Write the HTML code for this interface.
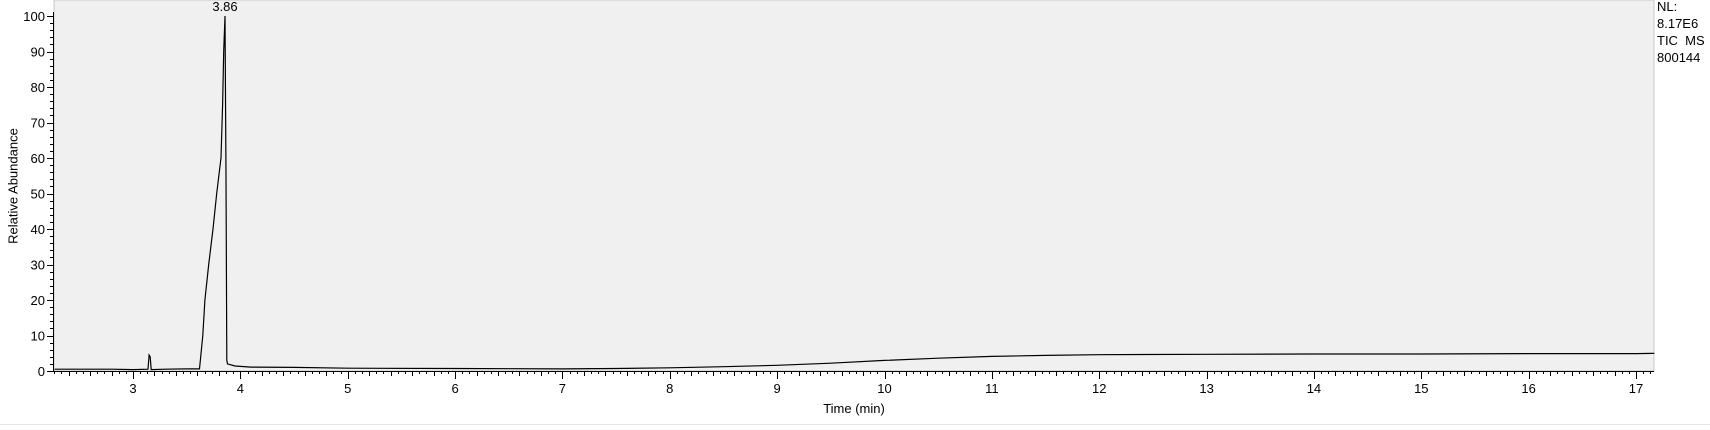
<!DOCTYPE html>
<html><head><meta charset="utf-8">
<style>
html,body{margin:0;padding:0;background:#fff;}
body{width:1710px;height:425px;overflow:hidden;font-family:"Liberation Sans",sans-serif;}
svg text{font-family:"Liberation Sans",sans-serif;}
</style></head>
<body>
<svg id="chart" width="1710" height="425" viewBox="0 0 1710 425" xmlns="http://www.w3.org/2000/svg">
<rect x="54" y="0" width="1600" height="371" fill="#f0f0f0" stroke="#c8c8c8" stroke-width="1"/>
<g id="axes"></g>
<g id="series"></g>
<text x="14" y="186" font-size="13" text-anchor="middle" transform="rotate(-90 14 186)" dominant-baseline="middle">Relative Abundance</text>
<text x="854" y="413" font-size="13" text-anchor="middle">Time (min)</text>
<text x="225" y="11" font-size="13" text-anchor="middle">3.86</text>
<g font-size="13">
<text x="1657" y="11">NL:</text>
<text x="1657" y="28">8.17E6</text>
<text x="1657" y="45">TIC&#160;&#160;MS</text>
<text x="1657" y="62">800144</text>
</g>
<line x1="0" y1="424.5" x2="1710" y2="424.5" stroke="#e6e6e6"/>
</svg>
<script>
const times = [2.27,2.5,2.8,3.0,3.14,3.15,3.16,3.17,3.3,3.5,3.62,3.65,3.67,3.705,3.745,3.78,3.82,3.835,3.845,3.857,3.866,3.874,3.88,3.95,4.1,4.5,5,6,7,7.5,8,8.5,9,9.5,10,10.5,11,11.5,12,13,14,15,16,17,17.17];
const abundance = [0.5,0.5,0.5,0.4,0.5,4.5,4,0.4,0.5,0.6,0.6,10,20,30,40,50,60,75,90,100,55,3,2,1.4,1.1,1,0.8,0.7,0.6,0.7,0.9,1.2,1.6,2.2,3.0,3.6,4.1,4.4,4.6,4.7,4.8,4.8,4.9,4.9,5.0,5.0];
const xTicks = [3,4,5,6,7,8,9,10,11,12,13,14,15,16,17];
const yTicks = [0,10,20,30,40,50,60,70,80,90,100];
const tMin = 2.255, tMax = 17.17;
const X = t => 53 + (t - tMin) * 107.36;
const Y = v => 371 - v * 3.55;
const NS = "http://www.w3.org/2000/svg";
const axes = document.getElementById('axes');
function ln(x1,y1,x2,y2,name){const l=document.createElementNS(NS,'line');l.setAttribute('x1',x1);l.setAttribute('y1',y1);l.setAttribute('x2',x2);l.setAttribute('y2',y2);l.setAttribute('stroke','#000');l.setAttribute('stroke-width','1');


axes.appendChild(l);return l;}
ln(53.5,Y(100)-4,53.5,372,'y-axis-line');
ln(53,371.5,1654,371.5,'x-axis-line');
for(let v=0;v<=100;v+=2){const y=Math.round(Y(v))+0.5;const major=v%10===0;ln(major?47:50,y,53,y,'y-tick');}
yTicks.forEach(v=>{const t=document.createElementNS(NS,'text');t.setAttribute('x',45);t.setAttribute('y',Y(v)+5);t.setAttribute('font-size','13');t.setAttribute('text-anchor','end');t.textContent=v;


axes.appendChild(t);});
for(let k=Math.ceil(tMin*15);k<=Math.floor(tMax*15);k++){const tt=k/15;const x=Math.round(X(tt))+0.5;let len=2;if(k%15===0)len=7;else if(k%3===0)len=4;ln(x,372,x,372+len,'x-tick');}
xTicks.forEach(v=>{const t=document.createElementNS(NS,'text');t.setAttribute('x',X(v));t.setAttribute('y',393);t.setAttribute('font-size','13');t.setAttribute('text-anchor','middle');t.textContent=v;


axes.appendChild(t);});
const p=document.createElementNS(NS,'polyline');
p.setAttribute('points',times.map((t,i)=>X(t).toFixed(1)+','+Y(abundance[i]).toFixed(1)).join(' '));
p.setAttribute('fill','none');p.setAttribute('stroke','#000');p.setAttribute('stroke-width','1.2');


document.getElementById('series').appendChild(p);
</script>
</body></html>
